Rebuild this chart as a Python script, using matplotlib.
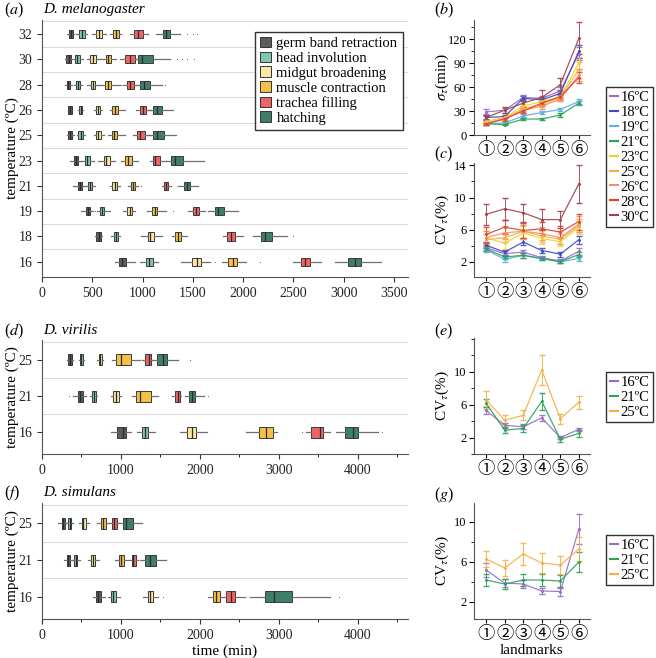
import numpy as np
import matplotlib
matplotlib.use("Agg")
import matplotlib.pyplot as plt
from matplotlib.patches import Patch
from matplotlib.lines import Line2D
from matplotlib.ticker import MultipleLocator

plt.rcParams['font.family'] = ['Liberation Serif', 'DejaVu Sans']
plt.rcParams['mathtext.fontset'] = 'stix'
plt.rcParams['font.size'] = 10

# ---------------- data ----------------
stages = ['germ band retraction', 'head involution', 'midgut broadening',
          'muscle contraction', 'trachea filling', 'hatching']
stage_colors = ['#5c5c5c', '#7fc8ad', '#fbe7a1', '#f6c046', '#ee6464', '#3f7e69']

# D. melanogaster, (whislo, q1, med, q3, whishi) per temperature
mel_temps = [16, 18, 19, 21, 23, 25, 26, 28, 30, 32]
mel_gbr = [(724, 767, 800, 840, 923), (525, 541, 564, 591, 601), (392, 435, 458, 481, 508),
           (309, 355, 375, 395, 435), (276, 315, 339, 362, 388), (252, 262, 282, 302, 315),
           (256, 262, 279, 296, 302), (232, 249, 262, 282, 296), (229, 242, 266, 289, 302),
           (252, 269, 289, 309, 322)]
mel_hi = [(973, 1033, 1062, 1099, 1155), (691, 714, 734, 757, 780), (548, 574, 594, 621, 674),
          (442, 461, 481, 501, 525), (392, 425, 448, 475, 515), (349, 359, 385, 408, 428),
          (362, 369, 385, 402, 408), (315, 342, 359, 375, 402), (309, 329, 352, 382, 408),
          (335, 369, 395, 428, 448)]
mel_mb = [(1378, 1487, 1537, 1577, 1670), (989, 1052, 1079, 1112, 1189), (807, 847, 873, 900, 923),
          (674, 700, 724, 747, 774), (558, 614, 641, 674, 724), (515, 534, 561, 591, 614),
          (521, 538, 561, 581, 594), (448, 488, 508, 531, 574), (448, 481, 508, 541, 574),
          (501, 538, 568, 601, 641)]
mel_mc = [(1786, 1853, 1902, 1942, 2029), (1288, 1321, 1348, 1378, 1438), (1046, 1096, 1120, 1145, 1238),
          (857, 886, 906, 926, 956), (790, 827, 857, 900, 956), (657, 697, 720, 750, 827),
          (681, 697, 724, 754, 823), (574, 631, 657, 691, 774), (591, 634, 657, 691, 734),
          (674, 707, 734, 767, 790)]
mel_tf = [(2500, 2576, 2616, 2666, 2772), (1796, 1843, 1876, 1919, 2002), (1454, 1504, 1530, 1564, 1620),
          (1195, 1215, 1238, 1255, 1278), (1072, 1099, 1125, 1172, 1238), (906, 946, 979, 1023, 1079),
          (933, 973, 1006, 1039, 1089), (807, 850, 880, 913, 946), (774, 823, 873, 923, 956),
          (873, 916, 950, 1000, 1056)]
mel_h = [(2914, 3048, 3108, 3172, 3376), (2102, 2175, 2218, 2284, 2434), (1653, 1720, 1753, 1810, 1952),
         (1355, 1411, 1438, 1471, 1554), (1238, 1278, 1321, 1404, 1610), (1059, 1099, 1139, 1215, 1331),
         (1059, 1099, 1139, 1189, 1305), (946, 973, 1013, 1079, 1189), (923, 956, 999, 1106, 1272),
         (1132, 1205, 1238, 1272, 1371)]
# (stage index, temperature, value)
mel_fliers = [(2, 16, 1720), (3, 16, 2168), (5, 18, 2493), (0, 19, 525), (3, 19, 1298),
              (3, 21, 989), (2, 28, 600), (3, 28, 790), (3, 28, 805), (5, 28, 1228),
              (5, 30, 1338), (5, 30, 1388), (5, 30, 1438), (5, 30, 1514),
              (5, 32, 1438), (5, 32, 1504), (5, 32, 1544)]

# D. virilis
vir_temps = [16, 21, 25]
vir_gbr = [(869, 954, 1030, 1063, 1122), (397, 452, 481, 515, 557), (321, 329, 354, 380, 388)]
vir_hi = [(1207, 1270, 1308, 1346, 1431), (608, 633, 658, 684, 700), (464, 481, 498, 515, 532)]
vir_mb = [(1755, 1840, 1907, 1958, 2093), (869, 903, 937, 971, 996), (700, 717, 738, 760, 776)]
vir_mc = [(2583, 2751, 2844, 2929, 2979), (1135, 1198, 1241, 1376, 1473), (882, 937, 996, 1122, 1241)]
vir_tf = [(3350, 3415, 3528, 3562, 3655), (1654, 1684, 1718, 1747, 1768), (1262, 1312, 1355, 1388, 1409)]
vir_h = [(3722, 3836, 3941, 4005, 4258), (1810, 1865, 1907, 1945, 2051), (1409, 1464, 1528, 1587, 1726)]
vir_fliers = [(0, 21, 346), (4, 16, 3290), (5, 16, 4310), (5, 21, 2106), (5, 25, 1882)]

# D. simulans
sim_temps = [16, 21, 25]
sim_gbr = [(641, 679, 709, 743, 798), (283, 312, 333, 354, 375), (207, 249, 270, 291, 312)]
sim_hi = [(840, 874, 903, 937, 987), (375, 405, 430, 447, 481), (312, 333, 354, 371, 388)]
sim_mb = [(1283, 1338, 1367, 1409, 1473), (587, 616, 641, 671, 726), (473, 502, 523, 557, 599)]
sim_mc = [(2106, 2169, 2211, 2254, 2287), (924, 979, 996, 1038, 1072), (700, 743, 776, 810, 861)]
sim_tf = [(2275, 2338, 2401, 2443, 2570), (1093, 1135, 1156, 1190, 1220), (852, 882, 912, 945, 966)]
sim_h = [(2642, 2832, 2937, 3173, 3646), (1241, 1304, 1367, 1443, 1578), (966, 1030, 1063, 1148, 1274)]
sim_fliers = [(2, 16, 1528), (5, 16, 3764)]

# right column: landmark statistics
landmarks = [1, 2, 3, 4, 5, 6]
landmark_labels = ['①', '②', '③', '④', '⑤', '⑥']
temp_colors = {16: '#9b6bc6', 18: '#3a4cbf', 19: '#5eaee0', 21: '#2ca25a', 23: '#f4d12a',
               25: '#f5b043', 26: '#f0916c', 28: '#e0432c', 30: '#a1404b'}

mel_sigma = {16: [29, 31, 47, 46, 55, 102], 18: [22, 23, 46, 44, 52, 105],
             19: [14, 15, 24, 28, 32, 42], 21: [14, 13, 20, 20, 25, 40],
             23: [17, 22, 36, 42, 48, 90], 25: [15, 20, 33, 38, 47, 82],
             26: [14, 21, 31, 36, 45, 75], 28: [14, 20, 30, 40, 48, 72],
             30: [22, 31, 40, 47, 63, 121]}
mel_sigma_err = {16: [3, 3, 3, 3, 5, 8], 18: [2, 2, 3, 3, 4, 8], 19: [1, 1, 2, 2, 2, 3],
                 21: [1, 1, 1, 1, 2, 3], 23: [2, 2, 3, 3, 4, 8], 25: [2, 2, 3, 3, 4, 10],
                 26: [1, 2, 2, 3, 3, 8], 28: [1, 2, 2, 3, 3, 7], 30: [3, 4, 5, 9, 8, 20]}
mel_cv = {16: [3.75, 3.0, 3.2, 2.5, 2.1, 3.3], 18: [4.05, 3.2, 4.45, 3.4, 2.95, 4.75],
          19: [3.5, 2.3, 2.8, 2.4, 2.0, 2.4], 21: [3.6, 2.6, 2.8, 2.4, 2.0, 2.9],
          23: [5.0, 4.3, 5.6, 4.9, 4.5, 6.3], 25: [4.75, 5.0, 5.8, 5.2, 4.8, 6.5],
          26: [5.0, 5.6, 5.8, 5.5, 5.0, 6.7], 28: [5.4, 6.3, 5.9, 6.1, 5.7, 7.0],
          30: [7.9, 8.6, 8.1, 7.25, 7.25, 11.7]}
mel_cv_err = {16: [0.3, 0.3, 0.3, 0.2, 0.2, 0.4], 18: [0.3, 0.3, 0.4, 0.3, 0.3, 0.5],
              19: [0.3, 0.3, 0.3, 0.2, 0.2, 0.3], 21: [0.3, 0.3, 0.3, 0.2, 0.2, 0.3],
              23: [0.8, 0.7, 0.8, 0.7, 0.6, 0.8], 25: [0.7, 0.6, 0.8, 0.7, 0.6, 0.8],
              26: [0.8, 0.8, 0.8, 0.8, 0.8, 1.0], 28: [0.9, 0.9, 0.9, 0.8, 0.8, 1.0],
              30: [1.3, 1.4, 1.1, 1.3, 1.1, 2.4]}

vir_cv = {16: [5.3, 3.5, 3.3, 4.4, 2.0, 3.0], 21: [6.2, 2.9, 3.1, 6.4, 1.8, 2.5],
          25: [6.6, 4.1, 4.7, 10.2, 4.3, 6.3]}
vir_cv_err = {16: [0.4, 0.3, 0.3, 0.4, 0.2, 0.2], 21: [0.5, 0.4, 0.4, 1.0, 0.3, 0.4],
              25: [1.1, 0.6, 0.6, 1.8, 0.6, 0.8]}
sim_cv = {16: [5.2, 3.9, 3.8, 3.1, 3.05, 9.3], 21: [4.2, 3.8, 4.2, 4.2, 4.1, 6.0],
          25: [6.3, 5.4, 6.8, 5.9, 5.7, 7.3]}
sim_cv_err = {16: [0.7, 0.4, 0.4, 0.3, 0.4, 1.5], 21: [0.6, 0.5, 0.6, 0.6, 0.6, 1.0],
              25: [0.8, 0.8, 1.1, 1.0, 0.9, 1.2]}

TICK = 10
LAB = 11


def draw_boxes(ax, temps, stage_rows, fliers, width):
    for s, rows in enumerate(stage_rows):
        stats = []
        for i, (lo, q1, med, q3, hi) in enumerate(rows):
            fl = [v for (st, t, v) in fliers if st == s and t == temps[i]]
            stats.append(dict(whislo=lo, q1=q1, med=med, q3=q3, whishi=hi, fliers=fl))
        ax.bxp(stats, positions=np.arange(len(temps)), widths=width,
               orientation='horizontal', patch_artist=True, showcaps=False,
               manage_ticks=False,
               boxprops=dict(facecolor=stage_colors[s], edgecolor='#3a3a3a', linewidth=0.7),
               medianprops=dict(color='#2a2a2a', linewidth=0.9),
               whiskerprops=dict(color='#6f6f6f', linewidth=0.9),
               flierprops=dict(marker='.', markersize=1.5, markerfacecolor='#555555',
                               markeredgecolor='none'))
    ax.set_yticks(np.arange(len(temps)))
    ax.set_yticklabels([str(t) for t in temps])
    ax.set_yticks(np.arange(len(temps)) + 0.5, minor=True)
    ax.grid(which='minor', axis='y', color='#dcdcdc', linewidth=0.8)
    ax.tick_params(axis='y', which='minor', length=0)
    ax.set_ylim(-0.6, len(temps) - 0.45)
    for sp in ['top', 'right']:
        ax.spines[sp].set_visible(False)
    for sp in ['left', 'bottom']:
        ax.spines[sp].set_color('#555555')
    ax.tick_params(labelsize=TICK, colors='#333333', labelcolor='#222222')
    ax.set_ylabel('temperature (ºC)', fontsize=LAB, va='center')
    ax.yaxis.set_label_coords(-30 / 366, 0.5)


def line_panel(ax, data, err, ylim, major, minor):
    for t in data:
        ax.errorbar(landmarks, data[t], yerr=err[t], color=temp_colors[t], lw=0.9,
                    marker='.', markersize=2.5, elinewidth=0.7, capsize=2,
                    ecolor=temp_colors[t], alpha=0.9)
    ax.set_xlim(0.35, 6.6)
    ax.set_ylim(*ylim)
    ax.set_xticks(landmarks)
    ax.set_xticklabels(landmark_labels, fontsize=12.5, family=['Noto Sans CJK JP', 'DejaVu Sans'])
    ax.yaxis.set_major_locator(MultipleLocator(major))
    ax.yaxis.set_minor_locator(MultipleLocator(minor))
    for sp in ['top', 'right']:
        ax.spines[sp].set_visible(False)
    for sp in ['left', 'bottom']:
        ax.spines[sp].set_color('#555555')
    ax.tick_params(axis='y', labelsize=9, pad=2)
    ax.tick_params(axis='x', length=3, pad=1)


def temp_legend(temps, y_top):
    handles = [Line2D([], [], color=temp_colors[t], lw=1.5) for t in temps]
    fig.legend(handles, ['%dºC' % t for t in temps], loc='upper left',
               bbox_to_anchor=(606 / W, 1 - y_top / H), fontsize=10.5,
               handlelength=0.6, handletextpad=0.15, labelspacing=0.12,
               borderpad=0.25, borderaxespad=0, fancybox=False,
               edgecolor='#333333', framealpha=1)


W, H = 656, 658
fig = plt.figure(figsize=(6.56, 6.58), dpi=100)


def add_ax(l, t, r, b):
    return fig.add_axes([l / W, 1 - b / H, (r - l) / W, (b - t) / H])


# (a)
ax_a = add_ax(42, 20, 408, 277)
draw_boxes(ax_a, mel_temps, [mel_gbr, mel_hi, mel_mb, mel_mc, mel_tf, mel_h], mel_fliers, 0.32)
ax_a.set_xlim(0, 3640)
ax_a.set_xticks(np.arange(0, 3501, 500))
ax_a.legend([Patch(facecolor=c, edgecolor='#333333', lw=0.7) for c in stage_colors], stages,
            loc='upper right', bbox_to_anchor=(0.985, 0.955), borderaxespad=0,
            fontsize=10.5, handlelength=0.75, handleheight=0.75, handletextpad=0.4,
            labelspacing=0.1, borderpad=0.35, fancybox=False, edgecolor='#333333',
            framealpha=1)

# (d)
ax_d = add_ax(42, 340, 408, 454)
draw_boxes(ax_d, vir_temps, [vir_gbr, vir_hi, vir_mb, vir_mc, vir_tf, vir_h], vir_fliers, 0.3)
ax_d.set_xlim(0, 4640)
ax_d.xaxis.set_major_locator(MultipleLocator(1000))
ax_d.xaxis.set_minor_locator(MultipleLocator(500))

# (f)
ax_f = add_ax(42, 503, 408, 619)
draw_boxes(ax_f, sim_temps, [sim_gbr, sim_hi, sim_mb, sim_mc, sim_tf, sim_h], sim_fliers, 0.3)
ax_f.set_xlim(0, 4640)
ax_f.xaxis.set_major_locator(MultipleLocator(1000))
ax_f.xaxis.set_minor_locator(MultipleLocator(500))
ax_f.set_xlabel('time (min)', fontsize=LAB)
ax_f.xaxis.set_label_coords(0.5, -(651 - 619) / 116)
ax_f.xaxis.label.set_va('center')

# (b)
ax_b = add_ax(474, 20, 590, 135)
line_panel(ax_b, mel_sigma, mel_sigma_err, (0, 144), 30, 15)
ax_b.set_ylabel(r'$\sigma_\tau$(min)', fontsize=LAB)

# (c)
ax_c = add_ax(474, 163, 590, 277)
line_panel(ax_c, mel_cv, mel_cv_err, (0.1, 14.3), 4, 2)
ax_c.set_yticks([2, 6, 10, 14])
ax_c.set_ylabel(r'CV$_\tau$(%)', fontsize=LAB)

# (e)
ax_e = add_ax(474, 338, 590, 454)
line_panel(ax_e, vir_cv, vir_cv_err, (0, 14.1), 4, 2)
ax_e.set_yticks([2, 6, 10])
ax_e.set_ylabel(r'CV$_\tau$(%)', fontsize=LAB)

# (g)
ax_g = add_ax(474, 503, 590, 619)
line_panel(ax_g, sim_cv, sim_cv_err, (0.3, 11.9), 4, 2)
ax_g.set_yticks([2, 6, 10])
ax_g.set_ylabel(r'CV$_\tau$(%)', fontsize=LAB)
ax_g.set_xlabel('landmarks', fontsize=LAB)
ax_g.xaxis.set_label_coords(0.5, -(650 - 619) / 116)
ax_g.xaxis.label.set_va('center')

for ax in [ax_b, ax_c, ax_e, ax_g]:
    ax.yaxis.label.set_va('center')
    ax.yaxis.set_label_coords(-(474 - 442) / 116, 0.5)

temp_legend([16, 18, 19, 21, 23, 25, 26, 28, 30], 87)
temp_legend([16, 21, 25], 372)
temp_legend([16, 21, 25], 535)

# panel labels and species names
for lab, x, y in [('a', 4, 10), ('d', 4, 331), ('f', 4, 493),
                  ('b', 434, 10), ('c', 434, 154), ('e', 434, 331), ('g', 434, 495)]:
    fig.text(x / W, 1 - y / H, r'($%s$)' % lab, fontsize=11.5, va='center', ha='left')
for name, y in [('D. melanogaster', 10), ('D. virilis', 331), ('D. simulans', 493)]:
    fig.text(43 / W, 1 - y / H, name, fontsize=11, style='italic', va='center', ha='left')

fig.savefig('out.png', dpi=100)
